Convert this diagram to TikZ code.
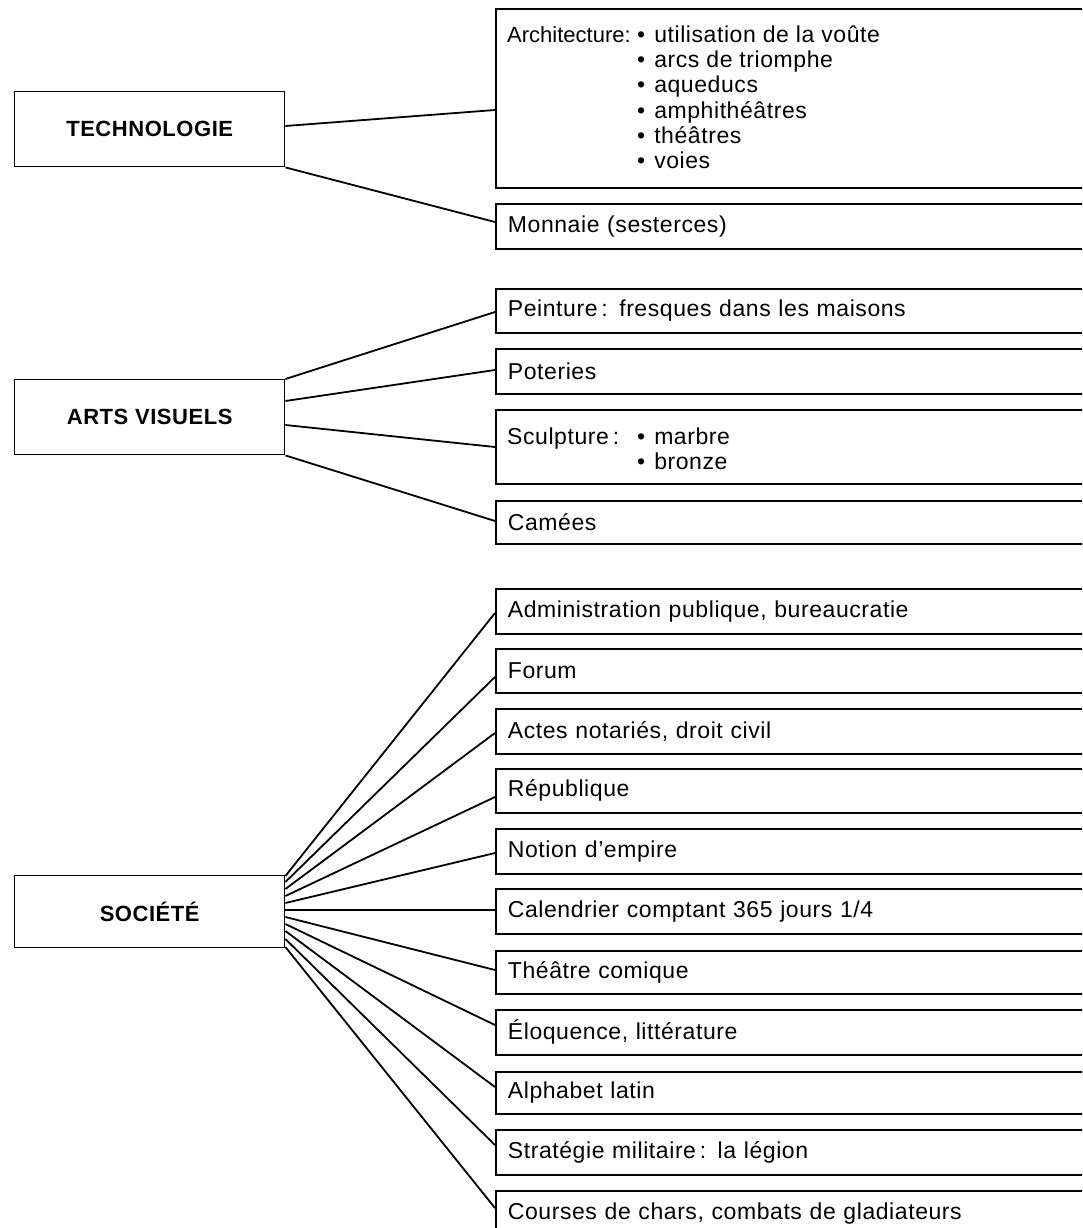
\documentclass[tikz,border=0pt]{standalone}
\usepackage{fontspec}
\setmainfont{Liberation Sans}[LetterSpace=2.5]
\newfontfamily\tightfont{Liberation Sans}
\begin{document}
\begin{tikzpicture}[x=1pt,y=-1pt,
  every node/.style={font=\fontsize{23}{25}\selectfont},
  leftbox/.style={draw, line width=1.4pt, minimum width=270pt, anchor=north west, inner sep=0pt, font=\fontsize{22}{25}\selectfont\bfseries},
  rbox/.style={draw, line width=1.8pt, minimum width=620pt, anchor=north west, inner xsep=12pt, inner ysep=0pt, text width=596pt, align=left},
  link/.style={line width=1.8pt},
  lbl/.style={anchor=base west, inner sep=0pt}]
\useasboundingbox (0,0) rectangle (1082,1228);
\clip (0,0) rectangle (1082,1228);
\fill[white] (0,0) rectangle (1082,1228);

% left boxes
\node[leftbox, minimum height=75pt] (tech) at (14,91) {TECHNOLOGIE};
\node[leftbox, minimum height=75pt] (arts) at (14,379) {ARTS VISUELS};
\node[leftbox, minimum height=72pt] (soc) at (14,875) {SOCIÉTÉ};

% technologie
\node[rbox, minimum height=179pt] (arch) at (495,8) {};
\node[lbl, font=\tightfont\fontsize{22}{25}\selectfont] (archlbl) at (507,43) {Architecture:};
\node[lbl] (arch1) at (637,43) {\textbullet\hspace{9pt}utilisation de la voûte};
\node[lbl] (arch2) at (637,68) {\textbullet\hspace{9pt}arcs de triomphe};
\node[lbl] (arch3) at (637,93) {\textbullet\hspace{9pt}aqueducs};
\node[lbl] (arch4) at (637,118) {\textbullet\hspace{9pt}amphithéâtres};
\node[lbl] (arch5) at (637,143) {\textbullet\hspace{9pt}théâtres};
\node[lbl] (arch6) at (637,168) {\textbullet\hspace{9pt}voies};
\node[rbox, minimum height=45pt] (monnaie) at (495,203) {Monnaie (sesterces)};

% arts visuels
\node[rbox, minimum height=44pt] (peint) at (495,288) {Peinture\,: fresques dans les maisons};
\node[rbox, minimum height=45pt] (pot) at (495,348) {Poteries};
\node[rbox, minimum height=74pt] (sculpt) at (495,409) {};
\node[lbl] (sculptlbl) at (507,444) {Sculpture\,:};
\node[lbl] (sculpt1) at (637,444) {\textbullet\hspace{9pt}marbre};
\node[lbl] (sculpt2) at (637,469) {\textbullet\hspace{9pt}bronze};
\node[rbox, minimum height=43pt] (camees) at (495,500) {Camées};

% société
\node[rbox, minimum height=45pt] (admin) at (495,588) {Administration publique, bureaucratie};
\node[rbox, minimum height=44pt] (forum) at (495,648) {Forum};
\node[rbox, minimum height=45pt] (actes) at (495,708) {Actes notariés, droit civil};
\node[rbox, minimum height=44pt] (rep) at (495,768) {République};
\node[rbox, minimum height=45pt] (notion) at (495,828) {Notion d'empire};
\node[rbox, minimum height=45pt] (cal) at (495,888) {Calendrier comptant 365 jours 1/4};
\node[rbox, minimum height=43pt] (theatre) at (495,950) {Théâtre comique};
\node[rbox, minimum height=45pt] (elo) at (495,1009) {Éloquence, littérature};
\node[rbox, minimum height=42pt] (alpha) at (495,1071) {Alphabet latin};
\node[rbox, minimum height=45pt] (strat) at (495,1129) {Stratégie militaire\,: la légion};
\node[rbox, minimum height=45pt] (courses) at (495,1190) {Courses de chars, combats de gladiateurs};

% connectors
\draw[link] ([yshift=-35pt]tech.north east) -- ([yshift=-102pt]arch.north west);
\draw[link] (tech.south east) -- ([yshift=-19pt]monnaie.north west);

\draw[link] (arts.north east) -- ([yshift=-24pt]peint.north west);
\draw[link] ([yshift=-22pt]arts.north east) -- ([yshift=-22pt]pot.north west);
\draw[link] ([yshift=-46pt]arts.north east) -- ([yshift=-38pt]sculpt.north west);
\draw[link] (arts.south east) -- ([yshift=-21pt]camees.north west);

\foreach \n/\s/\e in {admin/1/25, forum/7/29, actes/14/25, rep/21/29, notion/28/25, cal/35/22, theatre/42/20, elo/49/16, alpha/56/16, strat/64/16, courses/72/18}
  \draw[link] ([yshift=-\s pt]soc.north east) -- ([yshift=-\e pt]\n.north west);
\end{tikzpicture}
\end{document}
